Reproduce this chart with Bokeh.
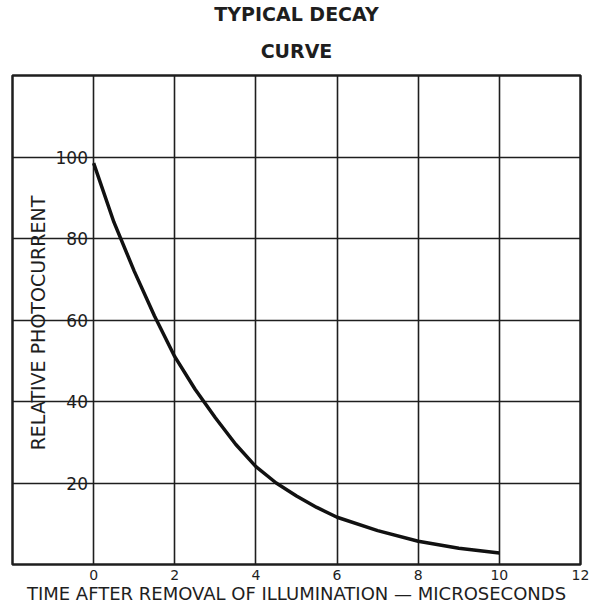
from bokeh.plotting import figure
from bokeh.models import Range1d, FixedTicker, Title, ColumnDataSource
from bokeh.core.properties import value
from bokeh.embed import file_html
from bokeh.resources import INLINE

# data
time_us = [0, 0.5, 1, 1.5, 2, 2.5, 3, 3.5, 4, 4.5, 5, 5.5, 6, 7, 8, 9, 10]
photocurrent = [98.5, 84, 72, 61, 51, 43, 36, 29.5, 24, 20, 16.8, 14, 11.6, 8.3, 5.7, 4.0, 2.8]
x_ticks = [0, 2, 4, 6, 8, 10, 12]
y_ticks = [20, 40, 60, 80, 100]
y_tick_labels = ["20", "40", "60", "80", "100"]

FONT = "DejaVu Sans"
INK = "#1e1e1e"

p = figure(output_backend="svg", toolbar_location=None,
           x_range=Range1d(-2, 12), y_range=Range1d(0, 120),
           frame_width=568, frame_height=489,
           min_border_left=12, min_border_right=15, min_border_top=0, min_border_bottom=0,
           title=None)

p.outline_line_color = INK
p.outline_line_width = 2.5
p.background_fill_color = "white"
p.border_fill_color = "white"

# grid
p.xgrid.ticker = FixedTicker(ticks=x_ticks)
p.ygrid.ticker = FixedTicker(ticks=y_ticks)
for g in (p.xgrid, p.ygrid):
    g.grid_line_color = INK
    g.grid_line_width = 1.6
    g.grid_line_alpha = 1.0

# axes
p.yaxis.visible = False
xa = p.xaxis[0]
xa.ticker = FixedTicker(ticks=x_ticks)
xa.axis_line_color = None
xa.major_tick_line_color = None
xa.minor_tick_line_color = None
xa.major_tick_out = 0
xa.major_tick_in = 0
xa.major_label_standoff = 5
xa.major_label_text_font = FONT
xa.major_label_text_font_size = "14px"
xa.major_label_text_color = INK
xa.axis_label = "TIME AFTER REMOVAL OF ILLUMINATION — MICROSECONDS"
xa.axis_label_text_font = FONT
xa.axis_label_text_font_size = "18px"
xa.axis_label_text_font_style = "normal"
xa.axis_label_text_color = INK
xa.axis_label_standoff = 0

# curve
p.line(time_us, photocurrent, line_color="#111111", line_width=3.5)

# y tick labels inside frame
src = ColumnDataSource(dict(x=[-0.14] * len(y_ticks), y=y_ticks, t=y_tick_labels))
p.text(x="x", y="y", text="t", source=src, text_align="right", text_baseline="middle",
       text_font=value(FONT), text_font_size=value("17px"), text_color=INK)

# y axis label inside frame
p.text(x=[-1.38], y=[60], text=["RELATIVE  PHOTOCURRENT"], angle=1.5708,
       text_align="center", text_baseline="middle",
       text_font=value(FONT), text_font_size=value("19px"), text_color=INK)

# titles
p.add_layout(Title(text="CURVE", align="center", text_font=FONT, text_font_size="19px",
                   text_font_style="bold", text_color=INK, standoff=27), "above")
p.add_layout(Title(text="TYPICAL DECAY", align="center", text_font=FONT, text_font_size="19px",
                   text_font_style="bold", text_color=INK, standoff=0), "above")

open("out.html", "w").write(file_html(p, INLINE))
